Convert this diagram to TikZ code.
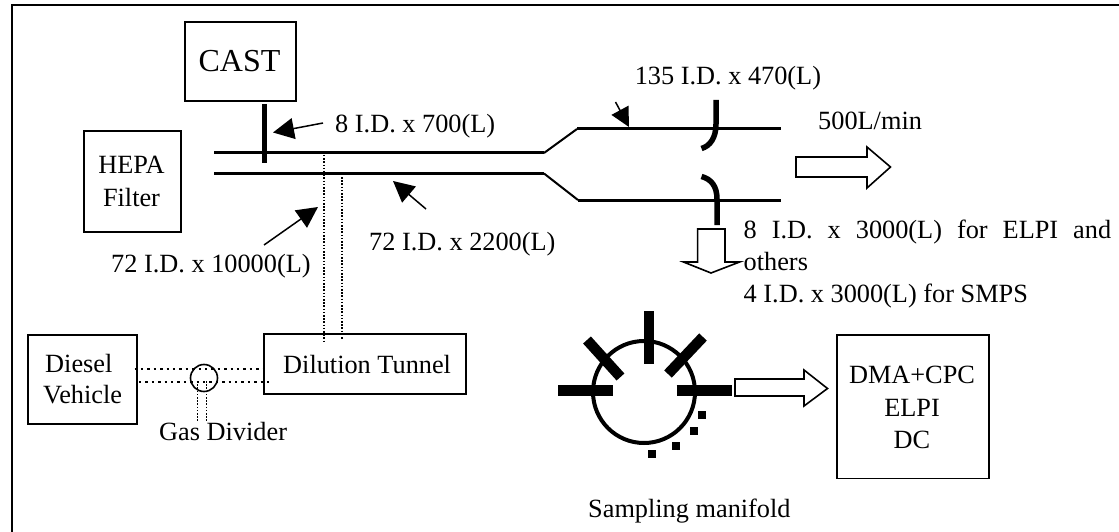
\documentclass[tikz,border=0pt]{standalone}
\usepackage{fontspec}
\setmainfont{Liberation Serif}
\usetikzlibrary{arrows.meta}
\tikzset{
  x=1pt,y=-1pt,
  box/.style={draw=black,line width=1.6pt,fill=white,inner sep=0pt,anchor=north west},
  lab/.style={inner sep=0pt,anchor=base west,font=\fontsize{26.3}{32}\selectfont},
  clab/.style={inner sep=0pt,anchor=base,font=\fontsize{26.3}{32}\selectfont},
  tube/.style={line width=3pt},
  stub/.style={line width=5.5pt},
  bar/.style={line width=10.5pt},
  dots/.style={line width=1.5pt,dash pattern=on 1.5pt off 1.7pt},
  hdots/.style={line width=2.4pt,dash pattern=on 2.4pt off 4pt},
  call/.style={line width=1.5pt,-{Triangle[length=21pt,width=21pt]}},
  blockarrow/.style={draw=black,line width=1.6pt,fill=white,line join=miter},
  dot/.style={fill=black,minimum size=8pt,inner sep=0pt},
}
\begin{document}
\begin{tikzpicture}
\useasboundingbox (0,0) rectangle (1119,532);
\fill[white] (0,0) rectangle (1119,532);
\coordinate (fa) at (11.5,532);
\coordinate (fb) at (11.5,5);
\coordinate (fc) at (1119,5);
\draw[line width=2pt,line join=miter] (fa) -- (fb) -- (fc);

% boxes
\node[box,minimum width=111pt,minimum height=79pt] (cast) at (184,21) {};
\node[clab,font=\fontsize{32}{32}\selectfont] (casttxt) at (239.5,72) {CAST};
\node[box,minimum width=97pt,minimum height=101pt] (hepa) at (83,130) {};
\node[clab] (hepa1) at (131.5,173) {HEPA};
\node[clab] (hepa2) at (131.5,206) {Filter};
\node[box,minimum width=202pt,minimum height=60pt] (tunnel) at (263,333) {};
\node[lab] (tunneltxt) at (283,373) {Dilution Tunnel};
\node[box,minimum width=109pt,minimum height=89pt] (diesel) at (27,334) {};
\node[lab] (diesel1) at (45,372) {Diesel};
\node[lab] (diesel2) at (43,403) {Vehicle};
\node[box,minimum width=152pt,minimum height=143.5pt] (dma) at (836,334) {};
\node[clab] (dma1) at (912,383) {DMA+CPC};
\node[clab] (dma2) at (912,416) {ELPI};
\node[clab] (dma3) at (912,448) {DC};

% dilution tube
\coordinate (u0) at (214,153); \coordinate (u1) at (544,153);
\coordinate (u2) at (577,129); \coordinate (u3) at (780.5,129);
\coordinate (l0) at (214,173.5); \coordinate (l1) at (544,173.5);
\coordinate (l2) at (578,200); \coordinate (l3) at (780.5,200);
\draw[tube,line join=bevel] (u0) -- (u1);
\draw[tube,line join=bevel] (u2) -- (u3);
\draw[line width=2pt] (u1) -- (u2);
\draw[tube,line join=bevel] (l0) -- (l1);
\draw[tube,line join=bevel] (l2) -- (l3);
\draw[line width=2pt] (l1) -- (l2);

% CAST stub
\coordinate (s0) at (264.5,104); \coordinate (s1) at (264.5,163);
\draw[line width=5.5pt] (s0) -- (s1);

% curved probes
\coordinate (p0) at (716,100); \coordinate (p1) at (716,124); \coordinate (p2) at (701.5,148.5);
\draw[stub] (p0) -- (p1) .. controls (716,138) and (710,146) .. (p2);
\coordinate (q0) at (717,225); \coordinate (q1) at (717,199); \coordinate (q2) at (701.5,176.5);
\draw[stub] (q0) -- (q1) .. controls (717,186) and (711,179) .. (q2);

% dotted lines
\coordinate (d1a) at (324,155); \coordinate (d1b) at (324,342);
\coordinate (d2a) at (342,177); \coordinate (d2b) at (342,339);
\draw[dots] (d1a) -- (d1b);
\draw[dots] (d2a) -- (d2b);
\node[draw=black,circle,line width=1.6pt,minimum size=27pt,inner sep=0pt] (gd) at (204,378) {};
\coordinate (h1a) at (134.5,369); \coordinate (h1b) at (263,369);
\coordinate (h2a) at (139,381.7); \coordinate (h2b) at (269,381.7);
\draw[hdots] (h1a) -- (h1b);
\draw[hdots] (h2a) -- (h2b);
\coordinate (v1a) at (197.5,381); \coordinate (v1b) at (197.5,421);
\coordinate (v2a) at (206.5,381); \coordinate (v2b) at (206.5,421);
\draw[dots] (v1a) -- (v1b);
\draw[dots] (v2a) -- (v2b);
\node[lab] (gdtxt) at (159,440) {Gas Divider};

% callouts
\coordinate (c1a) at (323,123); \coordinate (c1b) at (273,132.5);
\draw[call] (c1a) -- (c1b);
\coordinate (c2a) at (426,209); \coordinate (c2b) at (393,181);
\draw[call] (c2a) -- (c2b);
\coordinate (c3a) at (264,245); \coordinate (c3b) at (318,207);
\draw[call] (c3a) -- (c3b);
\coordinate (c4a) at (615.5,102); \coordinate (c4b) at (629,127);
\draw[line width=1.5pt,-{Triangle[length=19pt,width=19pt]}] (c4a) -- (c4b);

% block arrows
\draw[blockarrow] (796,157) -- (867,157) -- (867,147) -- (890.5,167) -- (867,188) -- (867,177) -- (796,177) -- cycle;
\draw[blockarrow] (697.6,229) -- (725,229) -- (725,262) -- (739.6,262) -- (711,273) -- (683.5,262) -- (697.6,262) -- cycle;
\draw[blockarrow] (735,379) -- (804,379) -- (804,370) -- (827.5,388.5) -- (804,406) -- (804,396) -- (735,396) -- cycle;

% labels
\node[lab] (t1) at (335,133) {8 I.D. x 700(L)};
\node[lab] (t2) at (369,250) {72 I.D. x 2200(L)};
\node[lab] (t3) at (111,272) {72 I.D. x 10000(L)};
\node[lab] (t4) at (634.6,85) {135 I.D. x 470(L)};
\node[lab] (t5) at (818,130) {500L/min};
\node[lab] (t6) at (743.5,238) {\makebox[367.5pt][s]{8 I.D. x 3000(L) for ELPI and}};
\node[lab] (t7) at (743.5,270.5) {others};
\node[lab] (t8) at (743.5,302) {4 I.D. x 3000(L) for SMPS};

% manifold
\node[draw=black,circle,line width=4pt,minimum size=102pt,inner sep=0pt] (mf) at (644,392) {};
\coordinate (b1a) at (558,390.5); \coordinate (b1b) at (612.5,390.5);
\coordinate (b2a) at (676.5,390.5); \coordinate (b2b) at (731.5,390.5);
\coordinate (b3a) at (649,311); \coordinate (b3b) at (649,364);
\coordinate (b4a) at (587,340); \coordinate (b4b) at (620.5,377);
\coordinate (b5a) at (703,337); \coordinate (b5b) at (668,374);
\foreach \p/\q in {b1a/b1b,b2a/b2b,b3a/b3b,b4a/b4b,b5a/b5b}{\draw[bar] (\p) -- (\q);}
\node[dot] (sq1) at (702,415) {};
\node[dot] (sq2) at (694,431) {};
\node[dot] (sq3) at (676,446) {};
\node[dot] (sq4) at (652,454) {};
\node[lab] (t9) at (588,517) {Sampling manifold};
\end{tikzpicture}
\end{document}
